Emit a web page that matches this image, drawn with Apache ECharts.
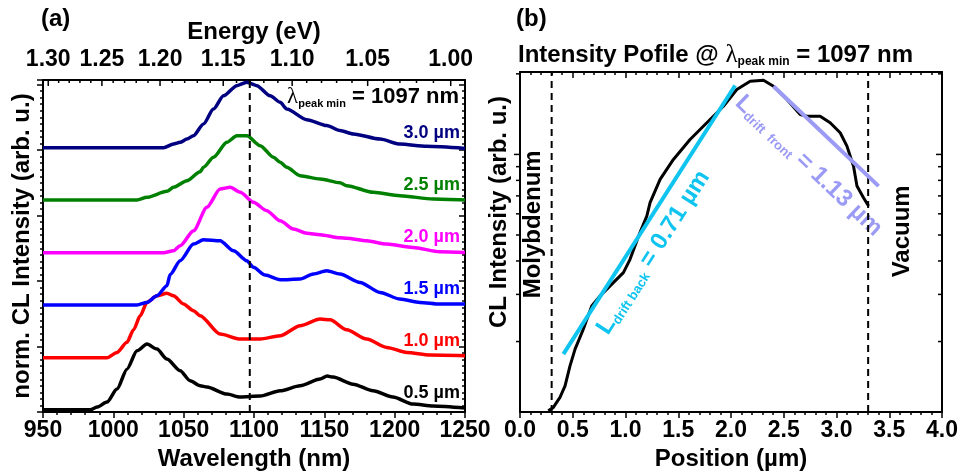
<!DOCTYPE html>
<html>
<head>
<meta charset="utf-8">
<script src="https://cdn.jsdelivr.net/npm/echarts@6/dist/echarts.min.js"></script>
<style>
  html, body { margin: 0; padding: 0; background: #fff; }
  #chart { width: 962px; height: 476px; }
</style>
</head>
<body>
<div id="chart"></div>
<script>
// ---------- fonts ----------
const FONT = '"Liberation Sans", Arial, sans-serif';
const SERIF = '"Liberation Serif", "DejaVu Serif", serif';
const HC = 1239.84; // photon energy conversion, eV·nm

// ---------- panel (a): CL spectra vs. wavelength ----------
const wavelengthRange = [950, 1250];
const intensityRangeA = [0, 5.07];
const energyMajorTicks = [1.30, 1.25, 1.20, 1.15, 1.10, 1.05, 1.00];
const energyMinorTicks = [1.29, 1.28, 1.27, 1.26, 1.24, 1.23, 1.22, 1.21,
                          1.19, 1.18, 1.17, 1.16, 1.14, 1.13, 1.12, 1.11,
                          1.09, 1.08, 1.07, 1.06, 1.04, 1.03, 1.02, 1.01];
const peakMinWavelength = 1097;

const spectrumNames = ['0.5 µm', '1.0 µm', '1.5 µm', '2.0 µm', '2.5 µm', '3.0 µm'];
const spectrumColors = ['#000000', '#ff0000', '#0000ff', '#ff00ff', '#008000', '#000080'];

const spec05 = [[950,0.035],[983.6,0.035],[988.4,0.076],[995.5,0.153],[1002.6,0.351],[1009.7,0.656],
  [1016.8,0.936],[1023.9,1.038],[1031.0,0.962],[1038.1,0.809],[1047.5,0.631],[1054.6,0.478],
  [1061.7,0.402],[1066.5,0.382],[1080.7,0.275],[1090.2,0.229],[1104.4,0.244],[1118.6,0.325],
  [1132.8,0.402],[1147.0,0.504],[1152.0,0.550],[1156.2,0.534],[1170.4,0.427],[1184.6,0.325],
  [1198.8,0.229],[1213.0,0.122],[1227.3,0.092],[1250,0.061]];
const spec10 = [[950,0.829],[995.5,0.829],[1002.6,0.911],[1009.7,1.066],[1014.4,1.257],[1019.1,1.471],
  [1023.9,1.676],[1031.0,1.775],[1038.1,1.815],[1042.8,1.775],[1049.9,1.650],[1057.0,1.547],
  [1061.7,1.471],[1075.9,1.191],[1090.2,1.115],[1104.4,1.115],[1118.6,1.166],[1132.8,1.318],
  [1147.0,1.420],[1154.1,1.409],[1165.9,1.257],[1180.1,1.115],[1194.4,0.988],[1208.6,0.911],
  [1225.1,0.870],[1250,0.860]];
const spec15 = [[950,1.634],[1016.8,1.634],[1023.9,1.675],[1031.0,1.775],[1038.1,1.930],[1040.4,2.100],
  [1047.5,2.311],[1057.0,2.565],[1064.1,2.632],[1075.9,2.616],[1085.4,2.463],[1094.9,2.311],
  [1099.6,2.210],[1107.9,2.092],[1118.6,2.020],[1132.8,2.031],[1142.2,2.108],[1151.7,2.158],
  [1161.1,2.108],[1175.4,1.980],[1189.6,1.827],[1203.7,1.725],[1218.0,1.675],[1232.2,1.649],
  [1250,1.649]];
const spec20 = [[950,2.432],[1035.7,2.432],[1042.8,2.463],[1047.5,2.539],[1057.0,2.768],[1066.5,3.126],
  [1075.9,3.406],[1083.1,3.432],[1090.2,3.356],[1099.6,3.203],[1109.1,3.075],[1118.6,2.921],
  [1128.0,2.795],[1137.5,2.730],[1147.0,2.708],[1161.1,2.660],[1165.9,2.655],[1180.1,2.615],
  [1194.4,2.565],[1213.0,2.514],[1232.2,2.447],[1250,2.438]];
const spec25 = [[950,3.237],[1016.8,3.237],[1023.9,3.279],[1038.1,3.371],[1042.8,3.432],[1052.3,3.533],
  [1061.7,3.670],[1064.1,3.737],[1071.2,3.890],[1080.7,4.120],[1087.8,4.220],[1094.9,4.220],
  [1104.4,4.068],[1113.8,3.890],[1118.6,3.814],[1123.3,3.737],[1132.8,3.609],[1147.0,3.559],
  [1161.1,3.500],[1165.9,3.457],[1184.8,3.356],[1203.7,3.304],[1227.3,3.252],[1250,3.237]];
const spec30 = [[950,4.035],[1035.7,4.035],[1042.8,4.092],[1047.5,4.118],[1052.3,4.168],[1057.0,4.220],
  [1064.1,4.399],[1071.2,4.626],[1078.3,4.830],[1087.8,4.984],[1094.9,5.035],[1102.0,4.984],
  [1111.5,4.830],[1118.6,4.730],[1123.3,4.626],[1137.5,4.465],[1151.7,4.375],[1161.1,4.298],
  [1170.6,4.247],[1189.6,4.168],[1203.7,4.092],[1222.8,4.057],[1250,4.026]];
const spectra = [spec05, spec10, spec15, spec20, spec25, spec30];

// ---------- panel (b): intensity profile vs. position ----------
const positionRange = [0, 4];
const intensityRangeB = [0.0109, 0.2032];
const logMajorTicks = [0.1];
const logMinorTicks = [0.02, 0.03, 0.04, 0.05, 0.06, 0.07, 0.08, 0.09, 0.2];
const boundaryPositions = [0.3, 3.3];

const profile = [[0.268,0.01102],[0.316,0.01135],[0.379,0.01237],[0.427,0.01366],[0.474,0.01622],
  [0.522,0.01873],[0.600,0.02223],[0.680,0.02716],[0.759,0.02960],[0.885,0.03321],[0.980,0.03619],
  [1.043,0.04057],[1.138,0.05117],[1.202,0.05883],[1.233,0.06604],[1.328,0.08067],[1.454,0.09579],
  [1.612,0.11375],[1.771,0.13131],[1.928,0.15141],[2.055,0.17474],[2.182,0.18770],[2.308,0.18930],
  [2.403,0.17982],[2.530,0.16040],[2.656,0.14101],[2.719,0.13899],[2.845,0.13899],[2.940,0.13131],
  [3.035,0.12050],[3.099,0.10740],[3.161,0.09044],[3.194,0.07615],[3.256,0.06894],[3.304,0.06412]];
const fitBack = [[0.411, 0.01794], [2.039, 0.18088]];
const fitFront = [[2.403, 0.17982], [3.399, 0.07615]];
const fitBackLabel = { sub: 'drift back', value: '= 0.71 µm', at: [1.265, 0.0430] };
const fitFrontLabel = { sub: 'drift  front', value: '= 1.13 µm', at: [2.736, 0.0906] };
const wallLabels = [
  { text: 'Molybdenum', at: [0.13, 0.0548] },
  { text: 'Vacuum', at: [3.62, 0.0516] }
];

// ---------- chart ----------
const chart = echarts.init(document.getElementById('chart'), null, { renderer: 'canvas' });

const BLACK = '#000';
const axisLine = { show: true, onZero: false, lineStyle: { color: BLACK, width: 2 } };
const tickStyle = { color: BLACK, width: 1.5 };
const labelStyle = { color: BLACK, fontFamily: FONT, fontWeight: 'bold', fontSize: 23 };
const nameStyle = { color: BLACK, fontFamily: FONT, fontWeight: 'bold', fontSize: 24 };

function ticks(inside, len) {
  return { show: true, inside: inside, length: len, lineStyle: tickStyle };
}

const series = [];

spectra.forEach((d, i) => {
  series.push({
    type: 'line', xAxisIndex: 0, yAxisIndex: 0, data: d,
    showSymbol: false, smooth: 0.25, smoothMonotone: 'x',
    lineStyle: { color: spectrumColors[i], width: 3.5 }, z: 3, silent: true
  });
});

series.push({
  type: 'line', xAxisIndex: 0, yAxisIndex: 0, showSymbol: false, silent: true,
  data: [[peakMinWavelength, intensityRangeA[0]], [peakMinWavelength, intensityRangeA[1]]],
  lineStyle: { color: BLACK, width: 2, type: [7, 5] }, z: 4
});

// top energy axis ticks and labels, positioned through the wavelength scale
series.push({
  type: 'custom', xAxisIndex: 1, yAxisIndex: 0, silent: true, z: 10, clip: false,
  data: energyMajorTicks.map(e => [HC / e, e, 1]).concat(energyMinorTicks.map(e => [HC / e, e, 0])),
  renderItem: function (params, api) {
    const cs = params.coordSys;
    const x = api.coord([api.value(0), intensityRangeA[1]])[0];
    const major = api.value(2) === 1;
    const top = cs.y;
    const children = [{
      type: 'line',
      shape: { x1: x, y1: top, x2: x, y2: top + (major ? 6 : 3) },
      style: { stroke: BLACK, lineWidth: 1.5 }
    }];
    if (major) {
      children.push({
        type: 'text',
        style: {
          x: x, y: top - 20, text: api.value(1).toFixed(2),
          align: 'center', verticalAlign: 'middle', fill: BLACK,
          fontFamily: FONT, fontWeight: 'bold', fontSize: 23
        }
      });
    }
    return { type: 'group', children: children };
  }
});

series.push({
  type: 'line', xAxisIndex: 2, yAxisIndex: 2, data: profile, showSymbol: false, silent: true,
  lineStyle: { color: BLACK, width: 3 }, z: 3
});
series.push({
  type: 'line', xAxisIndex: 2, yAxisIndex: 2, data: fitBack, showSymbol: false, silent: true,
  lineStyle: { color: '#10c4f0', width: 4 }, z: 4
});
series.push({
  type: 'line', xAxisIndex: 2, yAxisIndex: 2, data: fitFront, showSymbol: false, silent: true,
  lineStyle: { color: '#9b9bf5', width: 4 }, z: 4
});
boundaryPositions.forEach(p => {
  series.push({
    type: 'line', xAxisIndex: 2, yAxisIndex: 2, showSymbol: false, silent: true,
    data: [[p, intensityRangeB[0]], [p, intensityRangeB[1]]],
    lineStyle: { color: BLACK, width: 2, type: [7, 5] }, z: 2
  });
});

// log-axis ticks for panel (b): outward on the left, inward on the right
series.push({
  type: 'custom', xAxisIndex: 2, yAxisIndex: 2, silent: true, z: 10, clip: false,
  data: logMajorTicks.map(v => [0, v, 1]).concat(logMinorTicks.map(v => [0, v, 0])),
  renderItem: function (params, api) {
    const cs = params.coordSys;
    const y = api.coord([0, api.value(1)])[1];
    const len = api.value(2) === 1 ? 6 : 4;
    const xl = cs.x, xr = cs.x + cs.width;
    return {
      type: 'group', children: [
        { type: 'line', shape: { x1: xl - len, y1: y, x2: xl, y2: y }, style: { stroke: BLACK, lineWidth: 1.5 } },
        { type: 'line', shape: { x1: xr - len, y1: y, x2: xr, y2: y }, style: { stroke: BLACK, lineWidth: 1.5 } }
      ]
    };
  }
});

chart.setOption({
  animation: false,
  backgroundColor: '#fff',
  grid: [
    { left: 43, top: 80, width: 422, height: 333 },
    { left: 520, top: 72, width: 422, height: 341 }
  ],
  xAxis: [
    {
      gridIndex: 0, type: 'value', position: 'bottom', min: wavelengthRange[0], max: wavelengthRange[1], interval: 50,
      axisLine: axisLine, splitLine: { show: false },
      axisTick: ticks(false, 6), minorTick: { show: true, splitNumber: 5, length: 3, lineStyle: tickStyle },
      axisLabel: Object.assign({ margin: 7, formatter: v => String(v) }, labelStyle),
      name: 'Wavelength (nm)', nameLocation: 'middle', nameGap: 34, nameTextStyle: nameStyle
    },
    {
      gridIndex: 0, type: 'value', position: 'top', min: wavelengthRange[0], max: wavelengthRange[1],
      axisLine: axisLine, splitLine: { show: false }, axisTick: { show: false }, axisLabel: { show: false },
      name: 'Energy (eV)', nameLocation: 'middle', nameGap: 36, nameTextStyle: nameStyle
    },
    {
      gridIndex: 1, type: 'value', position: 'bottom', min: positionRange[0], max: positionRange[1], interval: 0.5,
      axisLine: axisLine, splitLine: { show: false },
      axisTick: ticks(false, 6), minorTick: { show: true, splitNumber: 5, length: 3, lineStyle: tickStyle },
      axisLabel: Object.assign({ margin: 7, formatter: v => v.toFixed(1) }, labelStyle),
      name: 'Position (µm)', nameLocation: 'middle', nameGap: 34, nameTextStyle: nameStyle
    },
    {
      gridIndex: 1, type: 'value', position: 'top', min: positionRange[0], max: positionRange[1], interval: 0.5,
      axisLine: axisLine, splitLine: { show: false },
      axisTick: ticks(true, 6), minorTick: { show: true, splitNumber: 5, length: 3, lineStyle: tickStyle },
      axisLabel: { show: false }
    }
  ],
  yAxis: [
    {
      gridIndex: 0, type: 'value', position: 'left', min: intensityRangeA[0], max: intensityRangeA[1], interval: 1,
      axisLine: axisLine, splitLine: { show: false },
      axisTick: ticks(false, 6), minorTick: { show: true, splitNumber: 10, length: 3, lineStyle: tickStyle },
      axisLabel: { show: false }
    },
    {
      gridIndex: 0, type: 'value', position: 'right', min: intensityRangeA[0], max: intensityRangeA[1], interval: 1,
      axisLine: axisLine, splitLine: { show: false },
      axisTick: ticks(true, 6), minorTick: { show: true, splitNumber: 10, length: 3, lineStyle: tickStyle },
      axisLabel: { show: false }
    },
    {
      gridIndex: 1, type: 'log', logBase: 10, position: 'left', min: intensityRangeB[0], max: intensityRangeB[1],
      axisLine: axisLine, splitLine: { show: false }, axisTick: { show: false }, axisLabel: { show: false }
    },
    {
      gridIndex: 1, type: 'log', logBase: 10, position: 'right', min: intensityRangeB[0], max: intensityRangeB[1],
      axisLine: axisLine, splitLine: { show: false }, axisTick: { show: false }, axisLabel: { show: false }
    }
  ],
  series: series
});

// ---------- text annotations ----------
function boldText(size) {
  return { fontFamily: FONT, fontWeight: 'bold', fontSize: size, fill: BLACK };
}
function lambdaRich(main, sub, color) {
  return {
    b: { fontFamily: FONT, fontWeight: 'bold', fontSize: main, lineHeight: main + 2, fill: color },
    l: { fontFamily: SERIF, fontWeight: 'normal', fontSize: main + 1, lineHeight: main + 2, fill: color },
    L: { fontFamily: FONT, fontWeight: 'bold', fontSize: main, lineHeight: main + 2, fill: color },
    s: { fontFamily: FONT, fontWeight: 'bold', fontSize: sub, lineHeight: sub + 1, verticalAlign: 'bottom', fill: color }
  };
}

const graphics = [
  { type: 'text', x: 41, y: 19, style: Object.assign({ text: '(a)', align: 'left', verticalAlign: 'middle' }, boldText(24)) },
  { type: 'text', x: 516, y: 19, style: Object.assign({ text: '(b)', align: 'left', verticalAlign: 'middle' }, boldText(24)) },
  { type: 'text', x: 22, y: 246, rotation: Math.PI / 2,
    style: Object.assign({ text: 'norm. CL Intensity (arb. u.)', align: 'center', verticalAlign: 'middle' }, boldText(24)) },
  { type: 'text', x: 499, y: 212, rotation: Math.PI / 2,
    style: Object.assign({ text: 'CL Intensity (arb. u.)', align: 'center', verticalAlign: 'middle' }, boldText(24)) },
  { type: 'text', x: 459, y: 97,
    style: { text: '{l|λ}{s|peak min}{b| = 1097 nm}', align: 'right', verticalAlign: 'middle', rich: lambdaRich(22, 11, BLACK) } },
  { type: 'text', x: 518, y: 55,
    style: { text: '{b|Intensity Pofile @ }{l|λ}{s|peak min}{b| = 1097 nm}', align: 'left', verticalAlign: 'middle', rich: lambdaRich(24, 12, BLACK) } }
];

// wall labels beside the boundary lines
wallLabels.forEach(w => {
  const p = chart.convertToPixel({ xAxisIndex: 2, yAxisIndex: 2 }, w.at);
  graphics.push({ type: 'text', x: p[0], y: p[1], rotation: Math.PI / 2,
    style: Object.assign({ text: w.text, align: 'center', verticalAlign: 'middle' }, boldText(24)) });
});

// spectrum labels, just above each curve's right end
spectra.forEach((d, i) => {
  const last = d[d.length - 1];
  const p = chart.convertToPixel({ xAxisIndex: 0, yAxisIndex: 0 }, last);
  graphics.push({ type: 'text', x: p[0] - 5, y: p[1] - 15,
    style: { text: spectrumNames[i], align: 'right', verticalAlign: 'middle', fill: spectrumColors[i],
      fontFamily: FONT, fontWeight: 'bold', fontSize: 18 } });
});

// fit labels, rotated along their fit lines
function fitAnnotation(line, lab, color) {
  const a = chart.convertToPixel({ xAxisIndex: 2, yAxisIndex: 2 }, line[0]);
  const b = chart.convertToPixel({ xAxisIndex: 2, yAxisIndex: 2 }, line[1]);
  const rot = -Math.atan2(b[1] - a[1], b[0] - a[0]);
  const p = chart.convertToPixel({ xAxisIndex: 2, yAxisIndex: 2 }, lab.at);
  return { type: 'text', x: p[0], y: p[1], rotation: rot,
    style: { text: '{L|L}{s|' + lab.sub + '}{b| ' + lab.value + '}', align: 'center', verticalAlign: 'middle',
      rich: lambdaRich(24, 13, color) } };
}
graphics.push(fitAnnotation(fitBack, fitBackLabel, '#10c4f0'));
graphics.push(fitAnnotation(fitFront, fitFrontLabel, '#9b9bf5'));

chart.setOption({ graphic: graphics });
</script>
</body>
</html>
